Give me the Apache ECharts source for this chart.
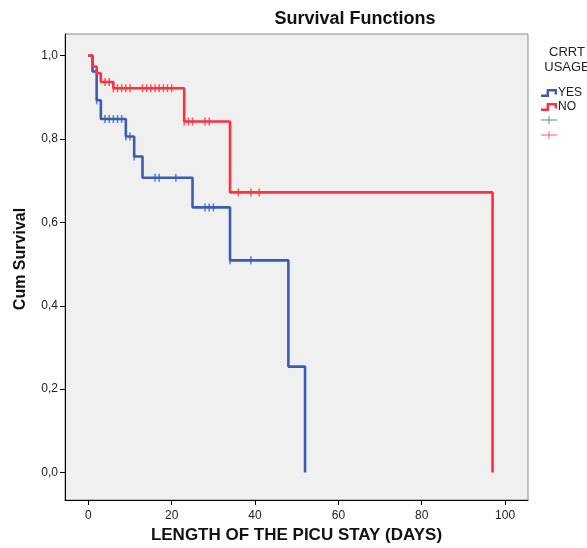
<!DOCTYPE html>
<html>
<head>
<meta charset="utf-8">
<script src="https://cdn.jsdelivr.net/npm/echarts@6/dist/echarts.min.js"></script>
<style>html,body{margin:0;padding:0;background:#fff;}#c{width:587px;height:548px;}</style>
</head>
<body>
<div id="c"></div>
<script>
// ---- data ----
const yesTimes = [0, 1, 2, 3, 9, 11, 13, 25, 34, 48, 52];
const yesSurv  = [1, 0.962, 0.893, 0.848, 0.806, 0.758, 0.707, 0.636, 0.509, 0.254, 0];
const noTimes  = [0, 1, 2, 3, 6, 23, 34, 97];
const noSurv   = [1, 0.974, 0.958, 0.937, 0.922, 0.842, 0.672, 0];
const yesCensTimes = [2, 4, 5, 6, 7, 8, 9, 10, 11, 16, 17, 21, 28, 29, 30, 34, 39];
const yesCensSurv  = [0.893, 0.848, 0.848, 0.848, 0.848, 0.848, 0.806, 0.806, 0.758, 0.707, 0.707, 0.707, 0.636, 0.636, 0.636, 0.509, 0.509];
const noCensTimes  = [4, 5, 6, 7, 8, 9, 10, 13, 14, 15, 16, 17, 18, 19, 20, 23, 24, 25, 28, 29, 36, 39, 41];
const noCensSurv   = [0.937, 0.937, 0.922, 0.922, 0.922, 0.922, 0.922, 0.922, 0.922, 0.922, 0.922, 0.922, 0.922, 0.922, 0.922, 0.842, 0.842, 0.842, 0.842, 0.842, 0.672, 0.672, 0.672];
const xTicks = [0, 20, 40, 60, 80, 100];
const yTicks = [0, 0.2, 0.4, 0.6, 0.8, 1.0];

const BLUE = '#3a5cb4';
const RED = '#ff2f3c';
const FONT = '"Liberation Sans", Arial, sans-serif';
const zip = (a, b) => a.map((v, i) => [v, b[i]]);
const stepIcon = 'path://M0,7 L7,7 L7,0 L20,0 L20,7 L17,7 L17,3 L10,3 L10,10 L0,10 Z';
const plusIcon = 'path://M0,4.5 L20,4.5 L20,5.5 L0,5.5 Z M9.4,0 L10.6,0 L10.6,10 L9.4,10 Z';

const chart = echarts.init(document.getElementById('c'), null, {renderer: 'canvas'});
const legendBase = {orient: 'vertical', left: 536, itemWidth: 16, itemHeight: 8,
  textStyle: {fontFamily: FONT, fontSize: 12, color: '#222', padding: [0, 0, 0, -4]},
  formatter: n => (n.trim() === n ? n : ''), selectedMode: false};
chart.setOption({
  animation: false,
  backgroundColor: '#fff',
  title: [
    {text: 'Survival Functions', left: 350, top: 5, textAlign: 'center',
     textStyle: {fontFamily: FONT, fontSize: 18, fontWeight: 'bold', color: '#111'}},
    {text: 'CRRT\nUSAGE', left: 562, top: 40, textAlign: 'center',
     textStyle: {fontFamily: FONT, fontSize: 13, fontWeight: 'normal', color: '#222', lineHeight: 15}}
  ],
  legend: [
    Object.assign({}, legendBase, {top: 82, data: [{name: 'YES', icon: stepIcon}]}),
    Object.assign({}, legendBase, {top: 96, data: [{name: 'NO', icon: stepIcon}]}),
    Object.assign({}, legendBase, {top: 111, data: [{name: 'YES ', icon: plusIcon}]}),
    Object.assign({}, legendBase, {top: 126, data: [{name: 'NO ', icon: plusIcon}]})
  ],
  grid: {left: 65, top: 34, right: 59, bottom: 48, show: true, backgroundColor: '#f0f0f0',
         borderColor: '#8a8a8a', borderWidth: 1, containLabel: false, outerBoundsMode: 'none'},
  xAxis: {
    type: 'value', min: -5.6, max: 105.5,
    name: 'LENGTH OF THE PICU STAY (DAYS)', nameLocation: 'middle', nameGap: 27,
    nameTextStyle: {fontFamily: FONT, fontSize: 17, fontWeight: 'bold', color: '#111'},
    axisLine: {show: true, onZero: false, lineStyle: {color: '#000', width: 1}},
    axisTick: {show: true, length: 5, lineStyle: {color: '#000'}, customValues: xTicks},
    axisLabel: {customValues: xTicks, margin: 10, fontFamily: FONT, fontSize: 12, color: '#222'},
    splitLine: {show: false}
  },
  yAxis: {
    type: 'value', min: -0.066, max: 1.052,
    name: 'Cum Survival', nameLocation: 'middle', nameGap: 36, nameRotate: 90,
    nameTextStyle: {fontFamily: FONT, fontSize: 16, fontWeight: 'bold', color: '#111', padding: [0, 0, 0, 16]},
    axisLine: {show: true, onZero: false, lineStyle: {color: '#000', width: 1}},
    axisTick: {show: true, length: 5, lineStyle: {color: '#000'}, customValues: yTicks},
    axisLabel: {customValues: yTicks, margin: 7, fontFamily: FONT, fontSize: 12, color: '#222',
                formatter: v => v.toFixed(1).replace('.', ',')},
    splitLine: {show: false}
  },
  series: [
    {name: 'YES', type: 'line', step: 'end', data: zip(yesTimes, yesSurv), showSymbol: false,
     color: BLUE, lineStyle: {width: 2.6, color: BLUE}, z: 2},
    {name: 'NO', type: 'line', step: 'end', data: zip(noTimes, noSurv), showSymbol: false,
     color: RED, lineStyle: {width: 2.6, color: RED}, z: 3},
    {name: 'YES ', type: 'scatter', data: zip(yesCensTimes, yesCensSurv), symbol: 'rect',
     symbolSize: [1.5, 8], color: BLUE, z: 4},
    {name: 'NO ', type: 'scatter', data: zip(noCensTimes, noCensSurv), symbol: 'rect',
     symbolSize: [1.5, 8], color: RED, z: 4}
  ]
});
</script>
</body>
</html>
